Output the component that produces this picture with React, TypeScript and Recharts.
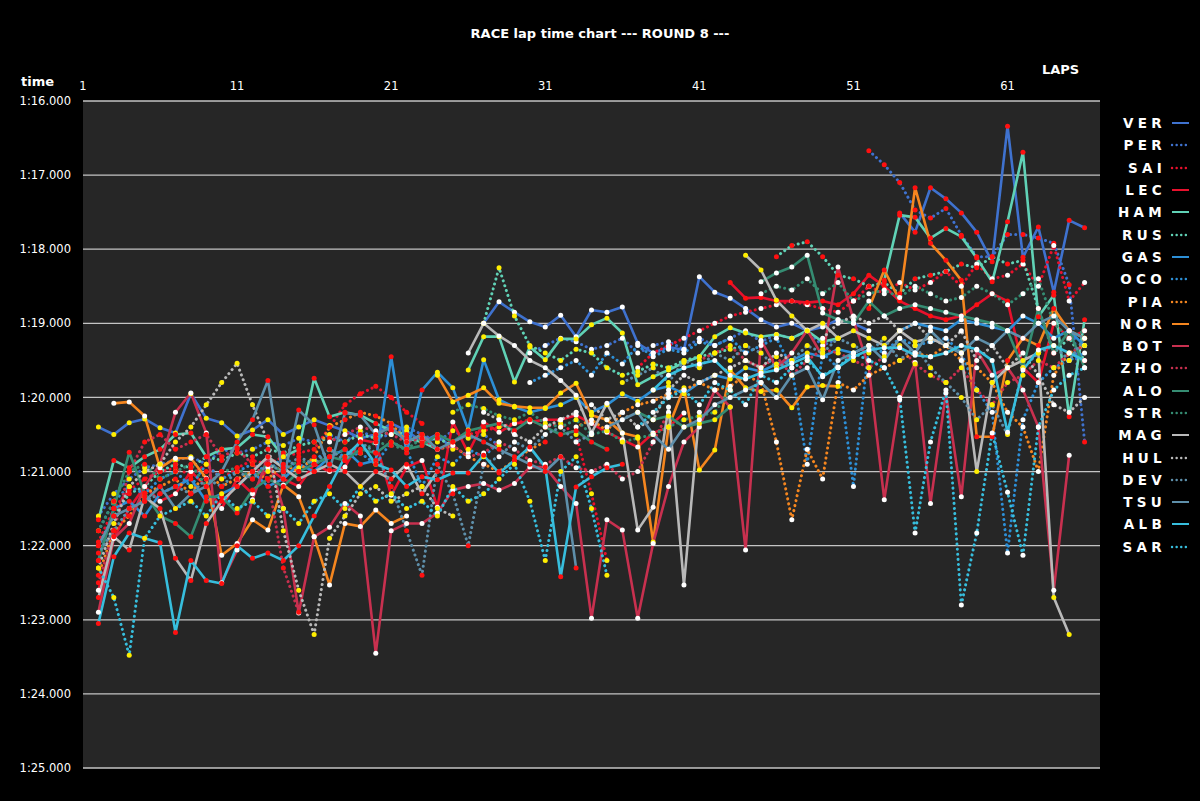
import React from 'react';
import { LineChart, Line, XAxis, YAxis, CartesianGrid } from 'recharts';

// laps 2..66 (lap 1 is off the scale)
const LAPS = [
  2, 3, 4, 5, 6, 7, 8, 9, 10, 11, 12, 13, 14, 15, 16, 17, 18, 19, 20, 21, 22, 23, 24, 25, 26,
  27, 28, 29, 30, 31, 32, 33, 34, 35, 36, 37, 38, 39, 40, 41, 42, 43, 44, 45, 46, 47, 48, 49, 50,
  51, 52, 53, 54, 55, 56, 57, 58, 59, 60, 61, 62, 63, 64, 65, 66,
];
const LAP_TICKS = [1, 11, 21, 31, 41, 51, 61];
const TIME_TICKS = [76, 77, 78, 79, 80, 81, 82, 83, 84, 85];

// lap times in seconds, null = pit lap / off the chart
const VER = [
  80.40, 80.50, 80.34, 80.29, 80.41,
  80.48, 79.95, 80.28, 80.34, 80.52,
  80.44, 80.30, 80.50, 80.40, 80.30,
  80.38, 80.45, 80.55, 80.50, 80.35,
  80.45, 80.60, 80.50, 80.70, null,
  79.00, 78.71, 78.85, 78.98, 79.05,
  78.89, 79.18, 78.82, 78.85, 78.78,
  79.27, 79.40, 79.32, 79.36, 78.37,
  78.58, 78.66, 78.80, 78.95, 79.05,
  79.00, 79.10, 79.05, 78.95, 79.00,
  79.10, null, 77.51, 77.77, 77.17,
  77.32, 77.51, 77.77, 78.17, 76.34,
  78.11, 77.70, 78.58, 77.61, 77.71,
];
const PER = [
  81.60, 81.30, 81.10, 80.95, 80.90,
  80.85, 80.80, 80.90, 80.70, 80.75,
  80.70, 80.60, 80.65, 80.55, 80.60,
  80.50, 80.60, 80.45, 80.55, 80.50,
  80.40, 80.50, 80.60, 80.45, 80.55,
  80.50, 80.65, null, 79.40, 79.30,
  79.20, 79.25, 79.35, 79.30, 79.20,
  79.40, 79.30, 79.25, 79.35, 79.20,
  79.30, 79.20, 79.10, 79.25, 79.15,
  79.20, 79.10, 79.30, 79.20, null,
  76.67, 76.86, 77.10, 77.47, 77.58,
  77.45, 77.81, 78.10, 78.10, 77.80,
  77.80, 77.85, 77.92, 78.48, 80.60,
];
const SAI = [
  81.95, 81.50, 81.25, 81.10, 81.00,
  80.95, 81.05, 80.90, 81.10, 80.95,
  80.85, 80.90, 80.80, 80.75, 80.70,
  80.40, 80.10, 79.95, 79.85, 80.00,
  80.20, 80.35, null, 80.60, 80.50,
  80.45, 80.40, 80.35, 80.30, 80.40,
  80.35, 80.50, 81.30, 82.20, null,
  79.60, 79.40, 79.30, 79.20, 79.10,
  79.00, 78.90, 78.85, 78.80, 78.75,
  78.70, 78.75, 78.80, 78.85, 78.70,
  78.50, 78.60, 78.45, 78.55, 78.45,
  78.30, 78.50, 78.20, 78.40, 78.35,
  78.20, 78.50, 77.95, 78.70, 78.45,
];
const LEC = [
  82.60, 81.90, 81.50, 81.20, 81.40,
  81.30, 81.00, 81.20, 81.50, 81.10,
  81.30, 80.95, 81.10, 81.20, 80.90,
  81.00, 80.94, 80.57, 80.61, 81.32,
  80.94, 80.85, 81.48, 80.33, 80.75,
  80.33, 80.47, 80.35, 80.33, 80.30,
  80.30, 80.24, 80.35, 80.47, 80.57,
  80.67, 80.48, 80.40, 80.21, null,
  null, 78.45, 78.66, 78.65, 78.70,
  78.70, 78.72, 78.70, 78.75, 78.60,
  78.35, 78.50, 78.70, 78.80, 78.90,
  78.95, 78.90, 78.75, 78.60, 78.70,
  79.60, 79.80, 79.00, 79.20, 79.10,
];
const HAM = [
  81.65, 80.85, 80.95, 80.80, 80.70,
  80.50, 80.48, 80.80, 80.70, 80.68,
  80.50, 80.53, 80.80, 80.70, 79.74,
  80.26, 80.20, 80.24, 80.35, 80.45,
  80.55, 80.60, 80.70, null, 79.63,
  79.18, 79.18, 79.79, 79.32, 79.49,
  79.21, 79.21, 79.02, 78.93, 79.13,
  79.83, 79.72, 79.63, 79.53, 79.45,
  79.18, 79.06, 79.13, 79.18, 79.15,
  79.20, 79.10, 79.25, 79.20, null,
  null, 78.42, 77.54, 77.57, 77.85,
  77.72, 77.83, 78.12, 78.44, 77.63,
  76.69, 78.91, 78.62, 80.26, 78.95,
];
const RUS = [
  82.00, 81.60, 81.30, 81.20, 81.00,
  80.90, 80.95, 80.80, 80.85, 80.75,
  80.80, 80.70, 80.75, 80.65, 80.60,
  80.55, 80.60, 80.50, 80.55, 80.45,
  80.50, 80.60, 80.55, 80.65, null,
  79.00, 78.25, 78.90, 79.30, 79.40,
  79.50, 79.35, 79.40, 79.60, 79.70,
  79.65, 79.55, 79.60, 79.50, 79.45,
  79.40, 79.35, 79.30, null, 78.10,
  77.95, 77.90, 78.10, 78.35, 78.40,
  78.50, 78.45, 78.60, 78.40, 78.35,
  78.30, 78.20, 78.25, 78.10, 78.20,
  78.15, 78.80, 79.40, 79.20, 79.50,
];
const GAS = [
  82.20, 81.50, 81.40, 81.60, 81.30,
  81.20, 81.10, 81.40, 81.30, 81.20,
  81.00, 81.20, 81.10, 80.90, 81.00,
  80.80, 80.70, 80.90, 80.85, 79.45,
  80.75, 79.90, 79.66, 79.87, 80.44,
  79.49, 80.03, 80.13, 80.20, 80.15,
  80.10, 80.00, 80.20, 80.10, 79.95,
  80.05, 79.90, 79.85, 79.95, 79.80,
  79.70, 79.75, 79.60, 79.65, 79.55,
  79.50, 79.40, 79.45, 79.35, 79.40,
  79.30, null, 79.10, 79.00, 79.05,
  79.10, 78.95, 79.00, 79.05, 79.10,
  78.90, 79.00, 79.20, 79.10, 79.30,
];
const OCO = [
  81.80, 81.40, 81.20, 81.30, 81.10,
  81.00, 81.20, 80.90, 81.10, 81.00,
  80.90, 81.00, 80.80, 80.95, 80.85,
  80.70, 80.80, 80.75, 80.90, 80.60,
  80.70, 81.20, 80.80, 80.90, 80.70,
  80.80, 80.60, null, 79.80, 79.70,
  79.60, 79.50, 79.70, 79.40, 79.55,
  79.30, 79.45, 79.35, 79.40, 79.25,
  79.30, 79.20, 79.40, 79.30, 79.20,
  79.60, 80.90, 79.40, 79.60, 81.20,
  79.30, 79.40, 79.20, 79.30, 79.25,
  79.20, 79.40, 79.90, 80.20, 82.10,
  80.30, 79.80, 79.60, 79.50, 79.40,
];
const PIA = [
  82.40, 81.80, 81.60, 81.30, 81.20,
  81.10, 81.30, 81.00, 81.20, 81.10,
  81.00, 81.10, 80.90, 81.00, 80.80,
  80.40, 80.30, 80.20, 80.25, 80.35,
  80.60, 80.50, 80.70, 80.65, 80.80,
  80.90, 81.00, 80.85, 80.70, 80.60,
  null, 80.40, 80.30, 80.45, 80.20,
  80.10, 80.05, 79.95, 79.90, 79.80,
  79.90, 79.85, 79.70, 79.80, 80.60,
  81.65, 80.70, 81.10, 79.80, 79.90,
  79.70, 79.60, 79.50, 79.40, 79.45,
  79.30, 79.50, 79.60, 79.80, 80.20,
  80.40, 81.00, 79.70, 79.40, 79.30,
];
const NOR = [
  null, 80.08, 80.06, 80.25, 80.95,
  80.82, 80.82, 81.09, 82.13, 81.97,
  81.65, 81.79, 81.18, 81.34, 81.88,
  82.53, 81.70, 81.74, 81.52, 81.70,
  81.60, null, 79.70, 80.06, 79.97,
  79.87, 80.08, 80.12, 80.14, 80.14,
  79.94, 79.81, 80.24, 80.30, 80.48,
  80.53, 81.95, 80.40, 79.87, 80.98,
  80.71, 79.63, 79.87, 79.92, 79.90,
  80.14, 79.86, 79.84, 79.85, null,
  78.80, 78.28, 78.69, 77.17, 77.92,
  78.15, 78.42, 80.53, 80.53, 79.50,
  79.20, 79.30, 78.80, 79.10, 79.20,
];
const BOT = [
  82.90, 81.90, 81.70, 81.20, 80.90,
  80.20, 79.94, 80.48, 82.50, 82.06,
  81.38, 80.80, 81.50, 82.91, 81.88,
  81.75, 81.43, 81.60, 83.45, 81.80,
  81.70, 81.70, 81.56, 81.25, 81.20,
  81.16, 81.25, 81.16, 80.94, 80.94,
  81.20, 81.43, 82.98, 81.65, 81.79,
  82.98, 81.97, 81.20, 80.60, 80.40,
  79.90, 80.13, 82.06, 79.23, 79.60,
  79.40, 79.09, 79.45, 78.24, 78.95,
  79.60, 81.38, 80.03, 79.53, 81.43,
  79.94, 81.34, 79.36, 79.70, 79.60,
  79.90, 80.40, 82.60, 80.78, null,
];
const ZHO = [
  82.50, 81.80, 81.00, 80.60, 80.50,
  80.70, 80.60, 80.50, 80.80, 80.70,
  80.90, 81.10, 82.30, 82.90, null,
  80.60, 80.50, 80.40, 80.45, 80.50,
  80.60, 80.55, 80.70, 80.65, 80.80,
  80.75, 80.60, 80.70, 80.85, 80.90,
  80.80, 80.95, 81.00, 80.90, 81.10,
  81.00, 80.60, 80.20, null, 79.50,
  79.40, 79.30, 79.50, 79.60, 79.45,
  79.70, 79.50, 79.35, 79.40, 79.50,
  79.60, 79.45, 79.30, 79.55, 79.70,
  79.80, 79.60, 79.90, 80.10, 79.80,
  79.70, 79.50, 79.60, 79.40, 79.30,
];
const ALO = [
  82.20, 81.50, 80.74, 81.29, 81.60,
  81.70, 81.88, 81.34, 81.34, 81.56,
  81.25, 81.10, 81.20, 81.00, 80.90,
  80.80, 80.85, 80.70, 80.75, 80.60,
  80.70, 80.65, 80.50, 80.60, 80.45,
  80.40, 80.35, 80.45, 80.30, 80.40,
  80.50, 80.45, 80.60, 80.70, null,
  80.20, 80.30, 80.25, 80.40, 80.35,
  80.30, 80.13, null, 78.44, 78.32,
  78.24, 78.08, 78.86, 78.95, 79.00,
  78.70, 78.90, 78.80, 78.75, 78.80,
  78.85, 78.90, 78.95, 79.00, 79.10,
  79.60, 78.80, 79.40, 79.10, 79.60,
];
const STR = [
  81.80, 81.40, 81.00, 80.90, 81.10,
  81.00, 80.90, 81.20, 81.00, 80.95,
  81.10, 80.90, 81.00, 80.85, 80.90,
  80.80, 80.70, 80.75, 80.60, 80.65,
  80.70, 80.55, null, 80.20, 80.10,
  80.15, 80.25, 80.30, 80.20, 80.35,
  80.40, 80.30, 80.50, 80.45, 80.60,
  80.55, 80.50, 80.40, 80.30, 80.25,
  80.20, 79.90, null, 78.60, 78.50,
  78.55, 78.40, 78.60, 78.45, 78.70,
  78.60, 78.55, 78.65, 78.50, 78.60,
  78.70, 78.65, 78.50, 78.60, 78.75,
  78.60, 78.40, 79.00, 79.20, 79.10,
];
const MAG = [
  82.70, 81.88, 82.06, 81.34, 81.50,
  82.17, 82.47, 81.70, 81.40, 81.20,
  81.00, 80.80, 80.95, 81.10, 81.00,
  80.90, 81.00, 81.20, 81.00, 81.10,
  80.90, 81.30, 81.00, null, 79.40,
  79.00, 79.17, 79.30, 79.50, 79.60,
  79.77, 79.97, 80.48, 80.08, 80.48,
  81.79, 81.48, 80.13, 82.53, 80.20,
  null, null, 78.08, 78.28, 78.69,
  78.90, 79.10, 79.00, 79.20, 79.10,
  79.20, 79.30, 79.10, 79.25, 79.20,
  79.30, 79.40, 81.00, 79.80, 79.60,
  79.50, 79.40, 82.70, 83.20, null,
];
const HUL = [
  82.30, 81.70, 81.20, 81.00, 80.90,
  80.60, 80.40, 80.10, 79.80, 79.54,
  80.10, 80.60, 81.80, 82.60, 83.20,
  81.90, 81.60, 81.30, 81.20, 81.40,
  81.30, 81.20, 81.50, 81.60, null,
  80.20, 80.30, 80.50, 80.60, 80.40,
  80.30, 80.20, 80.10, 80.30, 80.20,
  80.40, 80.30, 79.90, 79.70, 79.80,
  79.70, 79.60, 79.50, 79.60, 79.40,
  79.50, null, 79.20, 79.00, 78.90,
  79.00, 78.90, 79.10, 79.00, 79.20,
  79.30, 79.10, 79.50, 79.30, 79.60,
  79.40, 79.70, 80.10, 80.20, 80.00,
];
const DEV = [
  82.10, 81.80, 81.50, 81.40, 81.30,
  81.20, 81.30, 81.10, 81.20, 81.00,
  81.10, 80.90, 81.00, 80.80, 80.90,
  80.70, 80.85, 80.60, 80.75, 81.20,
  81.80, 82.40, 80.90, 81.30, 82.00,
  80.90, 80.80, 80.60, 80.70, 80.50,
  80.40, 80.60, 80.50, null, 79.80,
  79.70, 79.60, 79.80, 79.50, 79.60,
  79.40, 79.50, 79.30, 79.40, 79.60,
  79.50, 79.30, 79.40, 79.20, 79.30,
  79.40, 79.20, 79.50, 79.30, 79.60,
  79.80, 80.00, 80.30, 80.10, 80.50,
  79.60, 79.40, 79.30, 79.50, 79.20,
];
const TSU = [
  82.00, 81.60, 81.50, 81.40, 81.20,
  81.50, 81.30, 81.20, 81.00, 80.60,
  80.30, 79.77, 81.10, 80.17, 80.37,
  80.98, 80.21, 80.24, 80.50, 80.40,
  80.60, 80.50, 80.70, 80.60, 80.50,
  80.60, 80.70, 80.80, 80.90, 81.00,
  80.80, 82.30, null, 80.40, 80.30,
  80.20, 80.50, 80.70, 80.40, 80.30,
  80.10, 80.00, 79.90, 79.80, 80.00,
  79.70, 79.60, 80.03, 79.50, 79.40,
  79.30, 79.50, 79.20, 79.40, 79.10,
  79.30, 79.40, 79.20, 79.30, 79.10,
  79.20, 79.00, 78.90, 79.10, 79.20,
];
const ALB = [
  83.05, 82.15, 81.83, 81.90, 81.96,
  83.17, 82.20, 82.47, 82.51, 82.00,
  82.17, 82.10, 82.20, 82.00, 81.60,
  81.20, 80.80, 80.60, 80.90, 80.98,
  81.20, 81.07, 81.11, 81.02, 81.02,
  80.78, 81.02, 80.85, 80.67, 80.94,
  82.42, 81.21, 81.07, 80.95, 80.90,
  null, 79.90, 79.70, 79.60, 79.55,
  79.50, 79.70, 79.75, 79.67, 79.63,
  79.54, 79.45, 79.72, 79.59, 79.45,
  79.36, 79.33, 79.33, 79.43, 79.45,
  79.40, 79.30, 79.35, 79.50, 80.47,
  79.63, 79.36, 79.30, 79.40, 79.50,
];
const SAR = [
  82.30, 82.70, 83.48, 81.90, 81.60,
  81.50, 81.40, 81.60, 81.30, 81.50,
  81.40, 81.60, 81.50, 81.70, 81.40,
  81.30, 81.50, 81.20, 81.40, 81.30,
  81.50, 81.40, 81.60, 81.20, 81.40,
  81.30, 81.10, 80.90, 81.40, 82.20,
  81.00, 80.80, 81.50, 82.40, null,
  80.40, 80.20, 80.00, 79.90, 80.10,
  79.80, 79.90, 80.10, 79.70, 79.80,
  79.60, 79.50, 79.70, 79.60, 79.40,
  79.50, 79.60, 80.00, 81.83, 80.60,
  79.90, 82.80, 81.83, 80.48, 81.28,
  82.13, 80.40, 79.90, 79.70, 79.60,
];

// tyre stints: [first lap, compound]
const VER_TYRES = [[2, 'M'], [27, 'H'], [54, 'S']];
const PER_TYRES = [[2, 'M'], [30, 'H'], [52, 'S']];
const SAI_TYRES = [[2, 'S'], [25, 'M'], [37, 'H']];
const LEC_TYRES = [[2, 'H'], [43, 'S']];
const HAM_TYRES = [[2, 'S'], [26, 'M'], [53, 'S']];
const RUS_TYRES = [[2, 'S'], [27, 'M'], [46, 'S']];
const GAS_TYRES = [[2, 'S'], [24, 'M'], [54, 'H']];
const OCO_TYRES = [[2, 'M'], [30, 'H']];
const PIA_TYRES = [[2, 'S'], [33, 'H']];
const NOR_TYRES = [[2, 'H'], [24, 'M'], [52, 'S']];
const BOT_TYRES = [[2, 'H']];
const ZHO_TYRES = [[2, 'S'], [17, 'H'], [41, 'M']];
const ALO_TYRES = [[2, 'S'], [37, 'M'], [45, 'H']];
const STR_TYRES = [[2, 'S'], [25, 'M'], [45, 'H']];
const MAG_TYRES = [[2, 'S'], [26, 'H'], [44, 'M']];
const HUL_TYRES = [[2, 'M'], [27, 'H']];
const DEV_TYRES = [[2, 'S'], [27, 'H'], [36, 'M']];
const TSU_TYRES = [[2, 'S'], [35, 'H']];
const ALB_TYRES = [[2, 'S'], [38, 'H']];
const SAR_TYRES = [[2, 'M'], [37, 'H']];

const TYRE_COLORS: Record<string, string> = { S: '#ff1010', M: '#ffee00', H: '#ffffff' };

const SERIES = [
  { code: 'VER', times: VER, tyres: VER_TYRES, color: '#3f72cf', dotted: false },
  { code: 'PER', times: PER, tyres: PER_TYRES, color: '#3f72cf', dotted: true },
  { code: 'SAI', times: SAI, tyres: SAI_TYRES, color: '#e8112d', dotted: true },
  { code: 'LEC', times: LEC, tyres: LEC_TYRES, color: '#e8112d', dotted: false },
  { code: 'HAM', times: HAM, tyres: HAM_TYRES, color: '#60d2b6', dotted: false },
  { code: 'RUS', times: RUS, tyres: RUS_TYRES, color: '#60d2b6', dotted: true },
  { code: 'GAS', times: GAS, tyres: GAS_TYRES, color: '#2d8fd6', dotted: false },
  { code: 'OCO', times: OCO, tyres: OCO_TYRES, color: '#2d8fd6', dotted: true },
  { code: 'PIA', times: PIA, tyres: PIA_TYRES, color: '#f5861f', dotted: true },
  { code: 'NOR', times: NOR, tyres: NOR_TYRES, color: '#f5861f', dotted: false },
  { code: 'BOT', times: BOT, tyres: BOT_TYRES, color: '#c8304f', dotted: false },
  { code: 'ZHO', times: ZHO, tyres: ZHO_TYRES, color: '#c8304f', dotted: true },
  { code: 'ALO', times: ALO, tyres: ALO_TYRES, color: '#358c72', dotted: false },
  { code: 'STR', times: STR, tyres: STR_TYRES, color: '#358c72', dotted: true },
  { code: 'MAG', times: MAG, tyres: MAG_TYRES, color: '#b9b9b9', dotted: false },
  { code: 'HUL', times: HUL, tyres: HUL_TYRES, color: '#b9b9b9', dotted: true },
  { code: 'DEV', times: DEV, tyres: DEV_TYRES, color: '#5e8faa', dotted: true },
  { code: 'TSU', times: TSU, tyres: TSU_TYRES, color: '#5e8faa', dotted: false },
  { code: 'ALB', times: ALB, tyres: ALB_TYRES, color: '#37bedd', dotted: false },
  { code: 'SAR', times: SAR, tyres: SAR_TYRES, color: '#37bedd', dotted: true },
];

const data = LAPS.map((lap, i) => {
  const row: Record<string, number | null> = { lap };
  SERIES.forEach((s) => {
    row[s.code] = s.times[i];
  });
  return row;
});

const tyreColor = (tyres: any[], lap: number) => {
  let c = tyres[0][1];
  for (const [from, comp] of tyres) if (lap >= from) c = comp;
  return TYRE_COLORS[c];
};

const fmtTime = (v: number) => `1:${v - 60}.000`;

const FONT = '"DejaVu Sans", Verdana, sans-serif';

const makeDot = (s: any) => (props: any) => {
  const { cx, cy, payload, index } = props;
  const key = `${s.code}-${index}`;
  if (cx == null || cy == null || payload == null || payload[s.code] == null) return <g key={key} />;
  return <circle key={key} cx={cx} cy={cy} r={2.5} fill={tyreColor(s.tyres, payload.lap)} />;
};

const LegendBox = () => (
  <div style={{ position: 'absolute', left: 1108, top: 112, width: 90 }}>
    {SERIES.map((s) => (
      <div key={s.code} style={{ height: 22.3, display: 'flex', alignItems: 'center' }}>
        <span
          style={{
            width: 58,
            textAlign: 'right',
            color: '#fff',
            fontWeight: 'bold',
            fontSize: 13.5,
            letterSpacing: 4.3,
            fontFamily: FONT,
          }}
        >
          {s.code}
        </span>
        <svg width={22} height={10} style={{ marginLeft: 4 }}>
          <line
            x1={2}
            y1={5}
            x2={19}
            y2={5}
            stroke={s.color}
            strokeWidth={s.dotted ? 2.4 : 2}
            strokeDasharray={s.dotted ? '0.1 4.5' : undefined}
            strokeLinecap={s.dotted ? 'round' : 'butt'}
          />
        </svg>
      </div>
    ))}
  </div>
);

export default function App() {
  return (
    <div
      style={{
        position: 'absolute',
        left: 0,
        top: 0,
        width: 1200,
        height: 801,
        background: '#000',
        fontFamily: FONT,
        overflow: 'hidden',
      }}
    >
      <div
        style={{
          position: 'absolute',
          left: 0,
          width: 1200,
          top: 26,
          textAlign: 'center',
          color: '#fff',
          fontWeight: 'bold',
          fontSize: 13,
        }}
      >
        RACE lap time chart --- ROUND 8 ---
      </div>
      <div style={{ position: 'absolute', left: 21, top: 74, color: '#fff', fontWeight: 'bold', fontSize: 13 }}>time</div>
      <div style={{ position: 'absolute', left: 1042, top: 62, color: '#fff', fontWeight: 'bold', fontSize: 13 }}>LAPS</div>

      <LineChart width={1200} height={801} data={data} margin={{ top: 71, right: 100, bottom: 33, left: 0 }}>
        <CartesianGrid horizontal vertical={false} fill="#262626" stroke="#c4c4c4" strokeWidth={1.3} />
        <XAxis
          dataKey="lap"
          type="number"
          orientation="top"
          domain={[1, 67]}
          ticks={LAP_TICKS}
          height={30}
          axisLine={false}
          tickLine={false}
          tickSize={0}
          tickMargin={11}
          tick={{ fill: '#fff', fontSize: 11.5, fontFamily: FONT }}
          interval={0}
        />
        <YAxis
          type="number"
          domain={[76, 85]}
          reversed
          allowDataOverflow
          ticks={TIME_TICKS}
          width={83}
          axisLine={false}
          tickLine={false}
          tickSize={0}
          tickMargin={12}
          tickFormatter={fmtTime}
          tick={{ fill: '#fff', fontSize: 11.5, fontFamily: FONT }}
          interval={0}
        />
        {SERIES.map((s) => (
          <Line
            key={s.code}
            type="linear"
            dataKey={s.code}
            stroke={s.color}
            strokeWidth={s.dotted ? 3 : 2.6}
            strokeDasharray={s.dotted ? '0.1 5' : undefined}
            strokeLinecap="round"
            strokeLinejoin="round"
            dot={makeDot(s)}
            activeDot={false}
            connectNulls={false}
            isAnimationActive={false}
          />
        ))}
      </LineChart>
      <LegendBox />
    </div>
  );
}
